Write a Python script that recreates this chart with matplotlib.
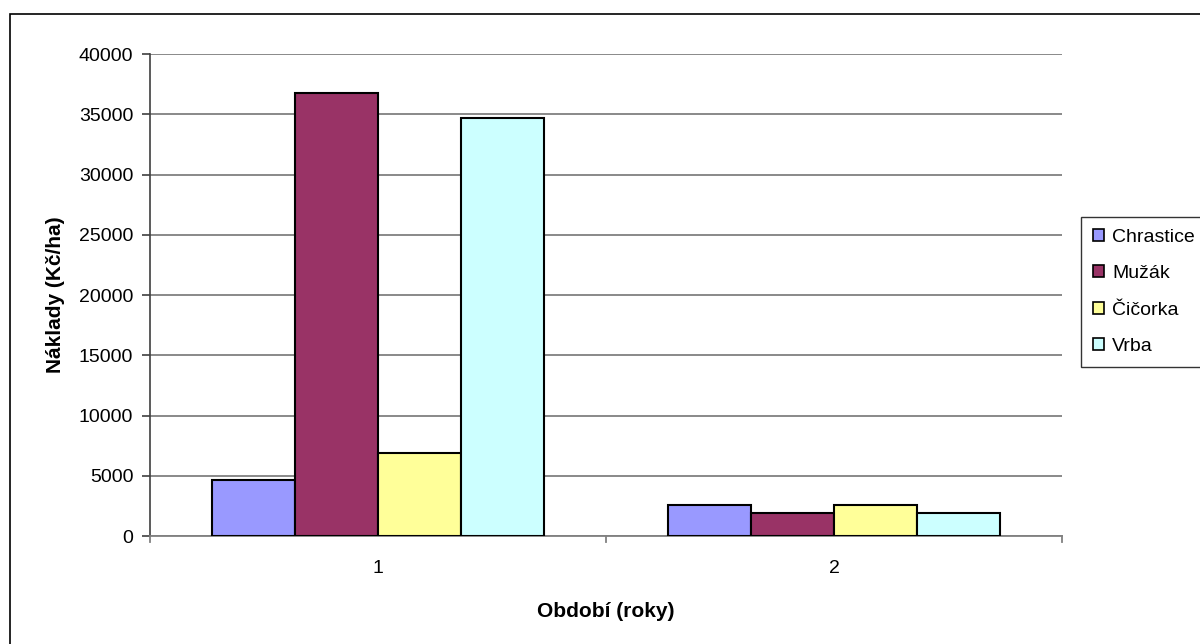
import matplotlib.pyplot as plt
import numpy as np
from matplotlib.patches import Rectangle, Patch

# costs per hectare, by period (years)
periods = ['1', '2']
series = ['Chrastice', 'Mužák', 'Čičorka', 'Vrba']
chrastice = [4650, 2570]
muzak = [36800, 1930]
cicorka = [6900, 2570]
vrba = [34700, 1930]
colors = ['#9999FF', '#993366', '#FFFF99', '#CCFFFF']

plt.rcParams['font.family'] = ['Liberation Sans', 'DejaVu Sans']

fig = plt.figure(figsize=(12, 6.44), dpi=100)
ax = fig.add_axes([0.125, 0.1677, 0.76, 0.7484])

# outer frame of the chart
fig.patches.append(Rectangle((10 / 1200, -0.1), 1.2, 1 - 14 / 644 + 0.1,
                             transform=fig.transFigure, fill=False,
                             edgecolor='black', linewidth=1.2))

bar_w = 1 / 5.5
x = np.arange(len(periods))
values = [chrastice, muzak, cicorka, vrba]
for i, (name, vals, col) in enumerate(zip(series, values, colors)):
    offs = (i - 1.5) * bar_w
    ax.bar(x + offs, vals, width=bar_w, color=col, edgecolor='black',
           linewidth=1.5, label=name, zorder=3)

ax.set_xlim(-0.5, 1.5)
ax.set_ylim(0, 40000)
ax.set_yticks(range(0, 40001, 5000))
ax.yaxis.grid(True, color='#808080', linewidth=1.3, zorder=0)

ax.set_xticks(x)
ax.set_xticklabels(periods)
ax.tick_params(axis='x', length=0, pad=17, labelsize=14)
# category separators on the x axis
for b in [-0.5, 0.5, 1.5]:
    ax.plot([b, b], [0, -0.012], color='#808080', linewidth=1.3,
            transform=ax.get_xaxis_transform(), clip_on=False)
ax.tick_params(axis='y', length=6, width=1.2, color='#404040', labelsize=14, pad=6)

for s in ['top', 'right']:
    ax.spines[s].set_visible(False)
ax.spines['left'].set_color('#404040')
ax.spines['bottom'].set_color('#808080')
ax.spines['left'].set_linewidth(1.2)
ax.spines['bottom'].set_linewidth(1.3)

ax.set_ylabel('Náklady (Kč/ha)', fontsize=15, fontweight='bold', labelpad=10)
ax.set_xlabel('Období (roky)', fontsize=15, fontweight='bold', labelpad=18)

handles = [Patch(facecolor=c, edgecolor='black', linewidth=1.2) for c in colors]
leg = fig.legend(handles, series, loc='upper left',
                 bbox_to_anchor=(1081 / 1200, 1 - 217 / 644),
                 fontsize=14, frameon=True, fancybox=False,
                 handlelength=0.6, handleheight=0.6, handletextpad=0.4,
                 labelspacing=1.0, borderpad=0.6, borderaxespad=0)
leg.get_frame().set_edgecolor('black')
leg.get_frame().set_linewidth(1.0)

fig.savefig('out.png', dpi=100)
